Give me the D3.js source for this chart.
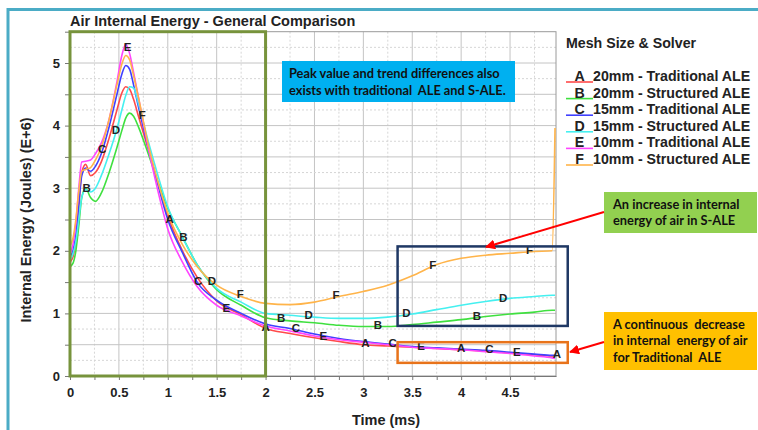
<!DOCTYPE html>
<html>
<head>
<meta charset="utf-8">
<script src="https://cdn.jsdelivr.net/npm/d3@7"></script>
<style>
  body { margin: 0; background: #fff; }
  svg { display: block; font-family: Arial, "Liberation Sans", sans-serif; }
</style>
</head>
<body>
<svg id="chart" width="758" height="430"></svg>
<script>
// time axis (ms), shared by every curve
var time = [0, 0.03, 0.06, 0.09, 0.12, 0.16, 0.21, 0.26, 0.32, 0.4, 0.48, 0.53, 0.57, 0.61, 0.65, 0.7, 0.8, 0.9,
  1.0, 1.15, 1.3, 1.5, 1.75, 2.0, 2.25, 2.5, 2.75, 3.0, 3.25, 3.5, 3.75, 4.0, 4.25, 4.5, 4.75, 4.93, 4.96];

// internal energy (E+6 J)
var seriesA = [1.82, 1.9, 2.15, 2.7, 3.25, 3.38, 3.2, 3.25, 3.42, 3.8, 4.25, 4.52, 4.62, 4.58, 4.42, 4.15, 3.62, 3.08,
  2.56, 2.0, 1.58, 1.2, 0.98, 0.76, 0.68, 0.61, 0.55, 0.5, 0.48, 0.46, 0.44, 0.42, 0.4, 0.37, 0.34, 0.32, 0.32];
var seriesB = [1.75, 1.8, 2.0, 2.4, 2.85, 3.0, 2.85, 2.79, 2.92, 3.25, 3.65, 3.92, 4.12, 4.2, 4.15, 3.98, 3.55, 3.1,
  2.68, 2.22, 1.78, 1.38, 1.13, 0.93, 0.88, 0.85, 0.81, 0.79, 0.79, 0.82, 0.86, 0.9, 0.95, 0.99, 1.02, 1.05, 1.05];
var seriesC = [1.9, 2.0, 2.25, 2.75, 3.2, 3.32, 3.27, 3.35, 3.55, 3.98, 4.5, 4.82, 4.96, 4.9, 4.65, 4.3, 3.65, 3.05,
  2.5, 1.97, 1.5, 1.21, 1.0, 0.83, 0.76, 0.67, 0.6, 0.55, 0.51, 0.47, 0.45, 0.43, 0.41, 0.38, 0.35, 0.33, 0.33];
var seriesD = [1.85, 1.95, 2.15, 2.5, 2.85, 2.98, 2.94, 3.0, 3.2, 3.55, 3.95, 4.25, 4.48, 4.62, 4.6, 4.35, 3.75, 3.2,
  2.7, 2.22, 1.78, 1.4, 1.18, 1.0, 0.97, 0.94, 0.92, 0.92, 0.94, 0.99, 1.06, 1.13, 1.19, 1.24, 1.27, 1.29, 1.29];
var seriesE = [1.95, 2.1, 2.45, 3.0, 3.42, 3.43, 3.45, 3.55, 3.72, 4.1, 4.7, 5.12, 5.3, 5.15, 4.85, 4.45, 3.65, 2.95,
  2.35, 1.82, 1.43, 1.13, 0.96, 0.8, 0.72, 0.64, 0.58, 0.54, 0.5, 0.46, 0.44, 0.42, 0.39, 0.36, 0.32, 0.29, 0.28];
var seriesF = [2.07, 2.2, 2.5, 2.95, 3.27, 3.3, 3.33, 3.45, 3.65, 4.1, 4.65, 4.98, 5.12, 5.05, 4.8, 4.45, 3.7, 3.1,
  2.6, 2.1, 1.75, 1.45, 1.27, 1.16, 1.14, 1.18, 1.27, 1.35, 1.45, 1.6, 1.78, 1.88, 1.93, 1.96, 1.99, 2.0, 3.96];

var letters = ["A", "B", "C", "D", "E", "F"];
var names = ["20mm - Traditional ALE", "20mm - Structured ALE", "15mm - Traditional ALE",
  "15mm - Structured ALE", "10mm - Traditional ALE", "10mm - Structured ALE"];
var colors = ["#ff4a4a", "#3fe03f", "#4040ff", "#45f0f0", "#ff45ff", "#ffb44a"];
var values = [seriesA, seriesB, seriesC, seriesD, seriesE, seriesF];

// where the curve letters sit along each curve (ms)
var labelTimes = [
  [1.02, 2.0, 3.02, 4.0, 4.98],
  [0.17, 1.16, 2.16, 3.15, 4.16],
  [0.33, 1.31, 2.31, 3.3, 4.29],
  [0.47, 1.45, 2.44, 3.44, 4.43],
  [0.59, 1.6, 2.59, 3.59, 4.57],
  [0.74, 1.74, 2.72, 3.71, 4.7]
];

var xTicks = d3.range(0, 4.9, 0.25);
var yTicks = d3.range(0, 5.51, 0.5);

var svg = d3.select("#chart");

var x = d3.scaleLinear().domain([0, 4.97]).range([70, 556]);
var y = d3.scaleLinear().domain([0, 5.5]).range([376, 31.7]);

// outer slide frame
svg.append("path")
  .attr("d", "M8,430 V9.5 H758")
  .attr("fill", "none")
  .attr("stroke", "#4bacc6")
  .attr("stroke-width", 3);

// grid
var grid = svg.append("g");
grid.selectAll(".vg").data(xTicks.slice(1)).enter().append("line")
  .attr("x1", function(d) { return x(d); }).attr("x2", function(d) { return x(d); })
  .attr("y1", y(5.5)).attr("y2", y(0))
  .attr("stroke", function(d, i) { return i % 2 ? "#c4c4c4" : "#d6d6d6"; })
  .attr("stroke-dasharray", function(d, i) { return i % 2 ? null : "2,2"; });
grid.selectAll(".hg").data(d3.range(0.25, 5.5, 0.25)).enter().append("line")
  .attr("y1", function(d) { return y(d); }).attr("y2", function(d) { return y(d); })
  .attr("x1", x(0)).attr("x2", x(4.97))
  .attr("stroke", function(d, i) { return i % 2 ? "#c4c4c4" : "#d6d6d6"; })
  .attr("stroke-dasharray", function(d, i) { return i % 2 ? null : "2,2"; });

// plot frame
svg.append("rect")
  .attr("x", x(0)).attr("y", y(5.5))
  .attr("width", x(4.97) - x(0)).attr("height", y(0) - y(5.5))
  .attr("fill", "none").attr("stroke", "#9a9a9a");

// axes
var fmt = function(d) { return Math.abs(d * 2 - Math.round(d * 2)) < 1e-6 && d < 4.9 ? d3.format("")(+d.toFixed(2)) : ""; };
var xAxis = svg.append("g")
  .attr("transform", "translate(0," + y(0) + ")")
  .call(d3.axisBottom(x).tickValues(xTicks).tickSizeInner(4).tickSizeOuter(0).tickPadding(8)
    .tickFormat(function(d) { return fmt(d); }));
var yAxis = svg.append("g")
  .attr("transform", "translate(" + x(0) + ",0)")
  .call(d3.axisLeft(y).tickValues(yTicks).tickSizeInner(5).tickSizeOuter(0).tickPadding(5)
    .tickFormat(function(d) { return d % 1 === 0 ? d : ""; }));
[xAxis, yAxis].forEach(function(a) {
  a.select(".domain").attr("stroke", "#777");
  a.selectAll(".tick line").attr("stroke", "#777");
  a.selectAll(".tick text").attr("fill", "#222").attr("font-size", 13).attr("font-weight", "bold")
    .attr("font-family", "Arial, 'Liberation Sans', sans-serif");
});

// curves
var line = d3.line()
  .x(function(d) { return x(d[0]); })
  .y(function(d) { return y(d[1]); })
  .curve(d3.curveMonotoneX);

var curves = values.map(function(v, i) {
  return { letter: letters[i], color: colors[i], pts: time.map(function(t, j) { return [t, v[j]]; }), times: labelTimes[i] };
});

svg.append("g").selectAll("path").data(curves).enter().append("path")
  .attr("d", function(d) { return line(d.pts); })
  .attr("fill", "none")
  .attr("stroke", function(d) { return d.color; })
  .attr("stroke-width", 1.6);

function valueAt(pts, t) {
  if (t >= pts[pts.length - 1][0]) return pts[pts.length - 2][1];
  var i = d3.bisector(function(p) { return p[0]; }).right(pts, t);
  var a = pts[i - 1], b = pts[i];
  return a[1] + (b[1] - a[1]) * (t - a[0]) / (b[0] - a[0]);
}

svg.append("g").selectAll("g").data(curves).enter().append("g")
  .selectAll("text")
  .data(function(d) { return d.times.map(function(t) { return { t: t, v: valueAt(d.pts, t), l: d.letter }; }); })
  .enter().append("text")
  .attr("x", function(d) { return x(d.t); })
  .attr("y", function(d) { return y(d.v); })
  .attr("dy", "0.2em")
  .attr("text-anchor", "middle")
  .attr("font-size", 11.5).attr("font-weight", "bold").attr("fill", "#222")
  .text(function(d) { return d.l; });

// highlight boxes
svg.append("rect")
  .attr("x", x(0)).attr("y", y(5.5)).attr("width", x(2) - x(0)).attr("height", y(0) - y(5.5))
  .attr("fill", "none").attr("stroke", "#77933c").attr("stroke-width", 3);
svg.append("rect")
  .attr("x", x(3.35)).attr("y", y(2.07)).attr("width", x(5.09) - x(3.35)).attr("height", y(0.8) - y(2.07))
  .attr("fill", "none").attr("stroke", "#1f3864").attr("stroke-width", 2.5);
svg.append("rect")
  .attr("x", x(3.35)).attr("y", y(0.54)).attr("width", x(5.09) - x(3.35)).attr("height", y(0.21) - y(0.54))
  .attr("fill", "none").attr("stroke", "#e8731a").attr("stroke-width", 2.5);

// titles
svg.append("text").attr("x", 70).attr("y", 26)
  .attr("font-size", 14.5).attr("font-weight", "bold").attr("fill", "#222")
  .text("Air Internal Energy - General Comparison");
svg.append("text").attr("x", 386).attr("y", 425).attr("text-anchor", "middle")
  .attr("font-size", 14.5).attr("font-weight", "bold").attr("fill", "#222")
  .text("Time (ms)");
svg.append("text").attr("transform", "translate(31,220) rotate(-90)").attr("text-anchor", "middle")
  .attr("font-size", 14.5).attr("font-weight", "bold").attr("fill", "#222")
  .text("Internal Energy (Joules) (E+6)");

// legend
var legend = svg.append("g").attr("font-size", 14.2).attr("font-weight", "bold").attr("fill", "#222");
legend.append("text").attr("x", 566).attr("y", 48).text("Mesh Size & Solver");
var item = legend.selectAll(".item").data(curves).enter().append("g")
  .attr("transform", function(d, i) { return "translate(0," + (81 + i * 16.6) + ")"; });
item.append("line").attr("x1", 566).attr("x2", 593).attr("y1", 1).attr("y2", 1)
  .attr("stroke", function(d) { return d.color; }).attr("stroke-width", 1.6);
item.append("text").attr("x", 579.5).attr("text-anchor", "middle").text(function(d) { return d.letter; });
item.append("text").attr("x", 593).text(function(d, i) { return names[i]; });

// callouts
var callFont = "Lato, 'Open Sans', sans-serif";
function callout(x0, y0, w, h, fill, lines, lineH, pad) {
  svg.append("rect").attr("x", x0).attr("y", y0).attr("width", w).attr("height", h).attr("fill", fill);
  svg.append("g").selectAll("text").data(lines).enter().append("text")
    .attr("x", x0 + pad).attr("y", function(d, i) { return y0 + 16.5 + i * lineH; })
    .attr("font-family", callFont).attr("font-size", 12.8).attr("font-weight", "bold").attr("fill", "#111")
    .attr("xml:space", "preserve")
    .text(function(d) { return d; });
}
callout(282, 61, 233, 41, "#00b0f0", ["Peak value and trend differences also", "exists with traditional  ALE and S-ALE."], 17, 7);
callout(604, 192, 153, 41, "#92d050", ["An increase in internal", "energy of air in S-ALE"], 16, 9);
callout(604, 312, 153, 58, "#ffc000", ["A continuous  decrease", "in internal  energy of air", "for Traditional  ALE"], 16.5, 9);

var defs = svg.append("defs");
defs.append("marker").attr("id", "arrow").attr("viewBox", "0 0 10 10")
  .attr("refX", 9).attr("refY", 5).attr("markerWidth", 5).attr("markerHeight", 5)
  .attr("orient", "auto-start-reverse")
  .append("path").attr("d", "M0,0 L10,5 L0,10 z").attr("fill", "#ff0000");
svg.append("line").attr("x1", 604).attr("y1", 212).attr("x2", 486).attr("y2", 247)
  .attr("stroke", "#ff0000").attr("stroke-width", 2).attr("marker-end", "url(#arrow)");
svg.append("line").attr("x1", 604).attr("y1", 342).attr("x2", 570).attr("y2", 352)
  .attr("stroke", "#ff0000").attr("stroke-width", 2).attr("marker-end", "url(#arrow)");
</script>
</body>
</html>
